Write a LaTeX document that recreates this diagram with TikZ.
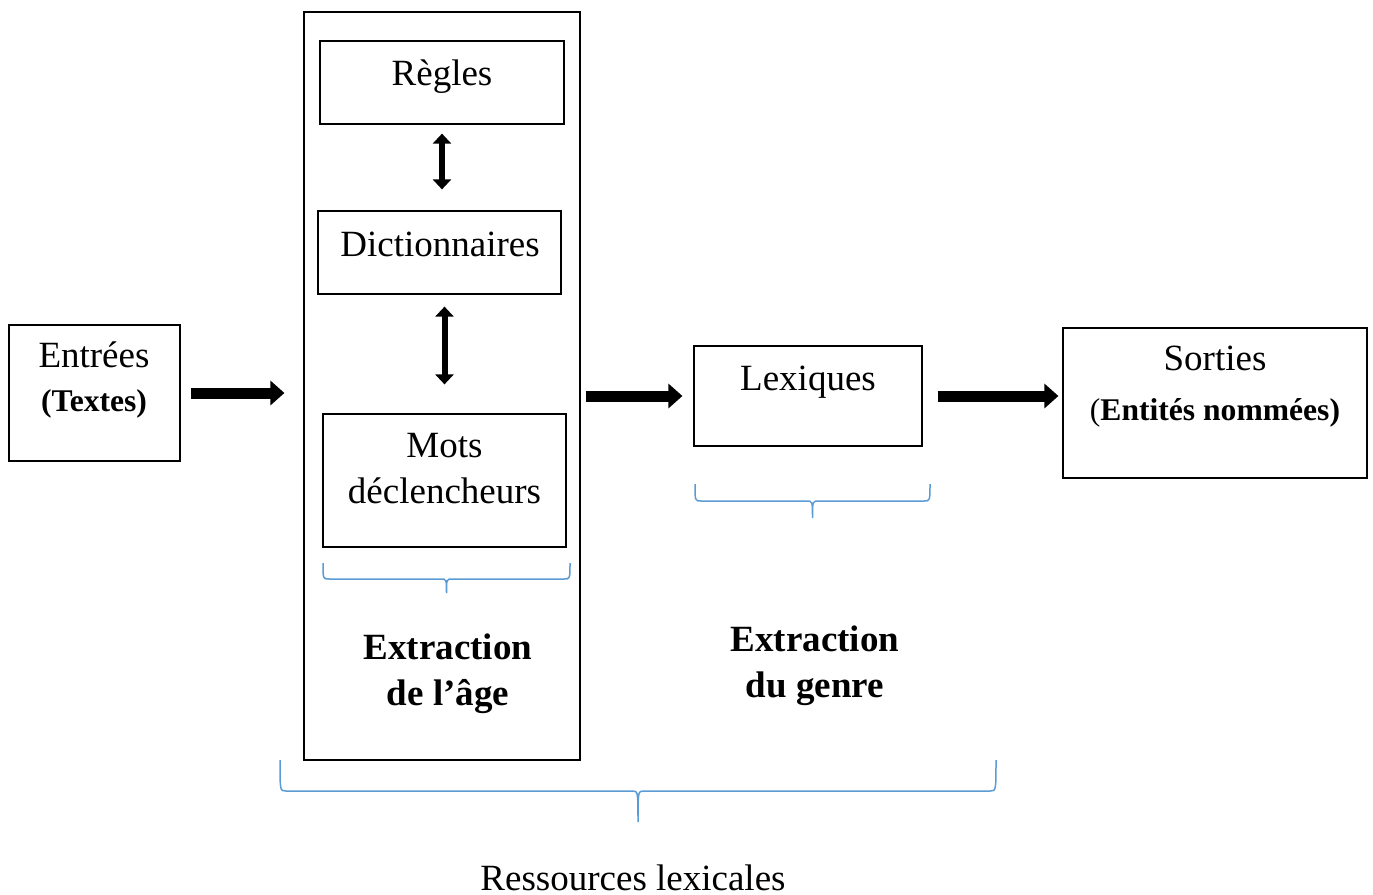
\documentclass[tikz,border=0pt]{standalone}
\usepackage{fontspec}
\setmainfont{Liberation Serif}
\usetikzlibrary{arrows.meta}
\usetikzlibrary{positioning}
\definecolor{bleuaccolade}{RGB}{91,155,213}
\newcommand{\grand}{\fontsize{18.5}{23}\selectfont}
\newcommand{\petit}{\fontsize{15.8}{20}\selectfont}
% accolade : x gauche, x droite, y haut, y bas, y pointe
\newcommand{\accolade}[5]{%
\draw[accolade] (#1,#3) .. controls (#1,#4) .. (#1+6,#4) -- ({(#1+#2)/2-6},#4) .. controls ({(#1+#2)/2},#4) .. ({(#1+#2)/2},#5) .. controls ({(#1+#2)/2},#4) .. ({(#1+#2)/2+6},#4) -- (#2-6,#4) .. controls (#2,#4) .. (#2,#3);}

\begin{document}
\begin{tikzpicture}[x=0.5pt,y=-0.5pt,
  boite/.style={draw,line width=0.6pt,inner sep=0pt},
  texte/.style={font=\grand,align=center,inner sep=0pt,anchor=base},
  fleche/.style={line width=5.5pt,-{Triangle[length=7pt,width=12pt]}},
  flechedouble/.style={line width=3pt,{Triangle[length=5pt,width=9pt]}-{Triangle[length=5pt,width=9pt]}},
  accolade/.style={draw=bleuaccolade,line width=0.75pt}]
\useasboundingbox (0,0) rectangle (1373,895);
\node[boite,minimum width=85.5pt,minimum height=68pt] (entrees) at (94.5,393) {};
\node[boite,minimum width=138pt,minimum height=374pt] (age) at (442,386) {};
\node[boite,minimum width=122pt,minimum height=41.5pt] (regles) at (442,82.5) {};
\node[boite,minimum width=121.5pt,minimum height=41.5pt] (dico) at (439.5,252.5) {};
\node[boite,minimum width=121.5pt,minimum height=66.5pt] (mots) at (444.5,480.5) {};
\node[boite,minimum width=114pt,minimum height=50pt] (lexiques) at (808,396) {};
\node[boite,minimum width=152pt,minimum height=75pt] (sorties) at (1215,403) {};

% base = ligne du bas
\node[texte] (tentrees) at (94,411) {Entrées\\[-1pt]{\petit\bfseries (Textes)}};
\node[texte] (tregles) at (442,85) {Règles};
\node[texte] (tdico) at (440,256) {Dictionnaires};
\node[texte] (tmots) at (444.5,503) {Mots\\déclencheurs};
\node[texte,font=\grand\bfseries] (tage) at (448,705) {Extraction\\de l’âge};
\node[texte] (tlexiques) at (808,390) {Lexiques};
\node[texte,font=\grand\bfseries] (tgenre) at (815,697) {Extraction\\du genre};
\node[texte] (tsorties) at (1215,420) {Sorties\\[2pt]{\petit (\bfseries Entités nommées)}};
\node[texte] (tressources) at (633,890) {Ressources lexicales};

\draw[fleche,shorten <=5pt,shorten >=9.5pt] (entrees.east) -- (entrees.east -| age.west);
\draw[fleche,shorten <=2.5pt,shorten >=5.5pt] (age.east |- lexiques) -- (lexiques.west);
\draw[fleche,shorten <=7.5pt,shorten >=2pt] (lexiques.east) -- (lexiques.east -| sorties.west);
\draw[flechedouble,shorten <=4.5pt,shorten >=10.5pt] (regles.south) -- (regles.south |- dico.north);
\draw[flechedouble,shorten <=6pt,shorten >=14.5pt] (mots.north |- dico.south) -- (mots.north);

\accolade{323}{570}{563}{579}{593}
\accolade{695}{930}{484}{501}{518}
\accolade{280}{996}{760}{791}{822}
\end{tikzpicture}
\end{document}
